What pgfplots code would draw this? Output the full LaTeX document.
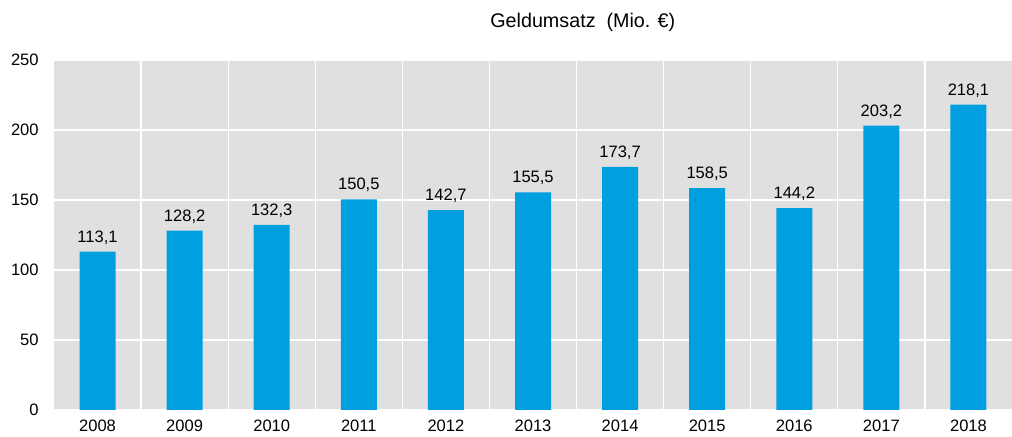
\documentclass[border=0pt]{standalone}
\usepackage{pgfplots}
\pgfplotsset{compat=1.18}
\usepackage{fontspec}
\setmainfont{Liberation Sans}
\definecolor{bg}{HTML}{E0E0E0}
\definecolor{barblue}{HTML}{009FE0}
\begin{document}
\begin{tikzpicture}
\begin{axis}[
  name=ax,
  scale only axis,
  width=718.5pt, height=262.5pt,
  xmin=-0.5, xmax=10.5, ymin=0, ymax=250,
  axis background/.style={fill=bg},
  axis line style={draw=none},
  ytick={0,50,100,150,200,250},
  xtick={0,...,10},
  xticklabels={2008,2009,2010,2011,2012,2013,2014,2015,2016,2017,2018},
  minor xtick={0.5,1.5,...,9.5},
  ymajorgrids, xminorgrids,
  major grid style={white, line width=0.9pt},
  minor grid style={white, line width=0.9pt},
  major tick length=0pt, minor tick length=0pt,
  tick style={draw=none},
  /pgf/number format/assume math mode=true,
  ticklabel style={font=\fontsize{12.4}{14}\selectfont},
  xticklabel style={yshift=-6pt, inner ysep=1pt, anchor=north},
  yticklabel style={xshift=-8pt},
  enlarge x limits=false,
  clip=false,
  nodes near coords,
  every node near coord/.append style={font=\fontsize{12.4}{14}\selectfont, yshift=2pt,
    /pgf/number format/.cd, fixed, fixed zerofill, precision=1, use comma, assume math mode=true},
]
\addplot[ybar, bar width=27pt, fill=barblue, draw=none] coordinates {
(0,113.1) (1,128.2) (2,132.3) (3,150.5) (4,142.7) (5,155.5) (6,173.7) (7,158.5) (8,144.2) (9,203.2) (10,218.1)};
\node[font=\fontsize{14.8}{17}\selectfont] at (rel axis cs:0.552,1) [yshift=28.5pt] {Geldumsatz\ \ (Mio. €)};
\end{axis}
\pgfresetboundingbox
\path[use as bounding box] ([xshift=-40.5pt,yshift=-20.25pt]ax.south west) rectangle ([yshift=45pt]ax.north east);
\end{tikzpicture}
\end{document}
